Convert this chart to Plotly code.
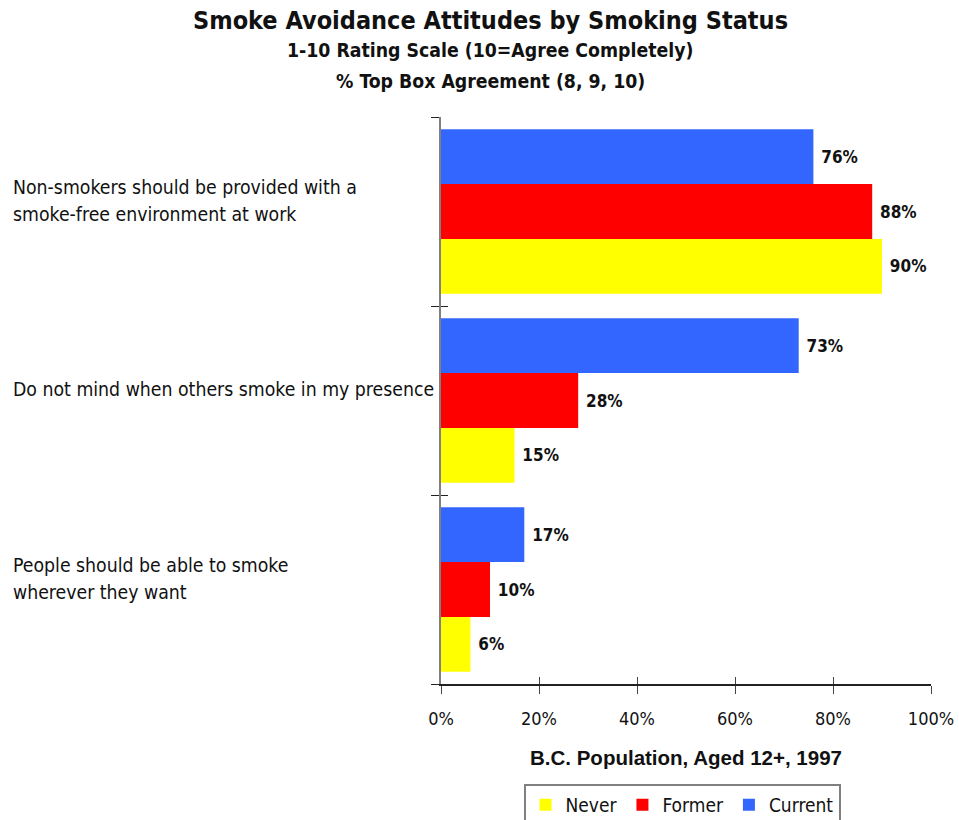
import plotly.graph_objects as go

# Survey statements, listed top to bottom
statements = [
    "Non-smokers should be provided with a<br>smoke-free environment at work",
    "Do not mind when others smoke in my presence",
    "People should be able to smoke<br>wherever they want",
]
statement_lines = [
    ["Non-smokers should be provided with a", "smoke-free environment at work"],
    ["Do not mind when others smoke in my presence"],
    ["People should be able to smoke", "wherever they want"],
]

# % top box agreement by smoking status
never = [90, 15, 6]
former = [88, 28, 10]
current = [76, 73, 17]

series = [
    ("Never", never, "#FFFF00"),
    ("Former", former, "#FF0000"),
    ("Current", current, "#3366FF"),
]

x_ticks = [0, 20, 40, 60, 80, 100]
x_tick_labels = [f"{v}%" for v in x_ticks]

FONT = "DejaVu Sans Condensed, DejaVu Sans, sans-serif"

# plot area in pixels
L, R, T, B = 441, 931, 117, 684
W, H = R - L, B - T

fig = go.Figure()
for name, values, color in series:
    fig.add_trace(go.Bar(
        name=name,
        y=statements,
        x=values,
        orientation="h",
        marker=dict(color=color, line=dict(width=0)),
        texttemplate="\u00a0<b>%{x}%</b>",
        textposition="outside",
        textfont=dict(family=FONT, size=17, color="#111"),
        cliponaxis=False,
    ))

# statement labels, left aligned at the page edge
annotations = []
for cat, lines in zip(statements, statement_lines):
    n = len(lines)
    for i, line in enumerate(lines):
        annotations.append(dict(
            text=line, xref="paper", yref="y", x=(11 - L) / W, y=cat,
            xanchor="left", yanchor="middle", showarrow=False,
            yshift=11 + (n - 1) / 2 * 27 - i * 27,
            font=dict(family=FONT, size=19.3, color="#111"),
        ))

# titles
titles = [
    ("Smoke Avoidance Attitudes by Smoking Status", 25, 20),
    ("1-10 Rating Scale (10=Agree Completely)", 19.3, 51),
    ("% Top Box Agreement (8, 9, 10)", 19.3, 81),
]
for text, size, ypix in titles:
    annotations.append(dict(
        text=f"<b>{text}</b>", xref="paper", yref="paper",
        x=(490 - L) / W, y=(B - ypix) / H,
        xanchor="center", yanchor="middle", showarrow=False,
        font=dict(family=FONT, size=size, color="#111"),
    ))

annotations.append(dict(
    text="<b>B.C. Population, Aged 12+, 1997</b>", xref="paper", yref="paper",
    x=(686 - L) / W, y=(B - 757) / H, xanchor="center", yanchor="middle",
    showarrow=False,
    font=dict(family="Liberation Sans, Arial, sans-serif", size=20.5, color="#111"),
))

fig.update_layout(
    width=959, height=820,
    margin=dict(l=L, r=959 - R, t=T, b=820 - B, autoexpand=False),
    paper_bgcolor="white", plot_bgcolor="white",
    barmode="group", bargap=0.13, bargroupgap=0,
    showlegend=True,
    legend=dict(
        orientation="h", x=(682 - L) / W, y=(B - 784) / H,
        xanchor="center", yanchor="top",
        bordercolor="#808080", borderwidth=2,
        font=dict(family=FONT, size=19, color="#111"),
        traceorder="normal",
    ),
    annotations=annotations,
    xaxis=dict(
        range=[0, 100], tickvals=x_ticks, ticktext=x_tick_labels,
        showgrid=False, zeroline=False, automargin=False,
        showline=True, linecolor="#222", linewidth=2,
        ticks="outside", ticklen=8, tickcolor="#444", tickwidth=1,
        ticklabelstandoff=9,
        tickfont=dict(family=FONT, size=18, color="#111"),
    ),
    xaxis2=dict(
        overlaying="x", anchor="y", side="bottom", range=[0, 100],
        tickvals=x_ticks, showticklabels=False, showgrid=False,
        zeroline=False, showline=False,
        ticks="inside", ticklen=7, tickcolor="#444", tickwidth=1,
    ),
    yaxis=dict(
        categoryorder="array", categoryarray=statements[::-1],
        showticklabels=False, showgrid=False, zeroline=False, automargin=False,
        showline=True, linecolor="#808080", linewidth=2,
        ticks="outside", tickson="boundaries", ticklen=8,
        tickcolor="#222", tickwidth=1,
    ),
    yaxis2=dict(
        overlaying="y", anchor="x", side="left", range=[-0.5, 2.5],
        tickvals=[-0.5, 0.5, 1.5, 2.5], showticklabels=False,
        showgrid=False, zeroline=False, showline=False,
        ticks="inside", ticklen=7, tickcolor="#222", tickwidth=1,
    ),
)

# invisible trace to bring the secondary axes into the layout
fig.add_trace(go.Scatter(x=[0], y=[0], xaxis="x2", yaxis="y2", mode="markers",
                         marker=dict(opacity=0), showlegend=False, hoverinfo="skip"))

fig.write_html("out.html")
